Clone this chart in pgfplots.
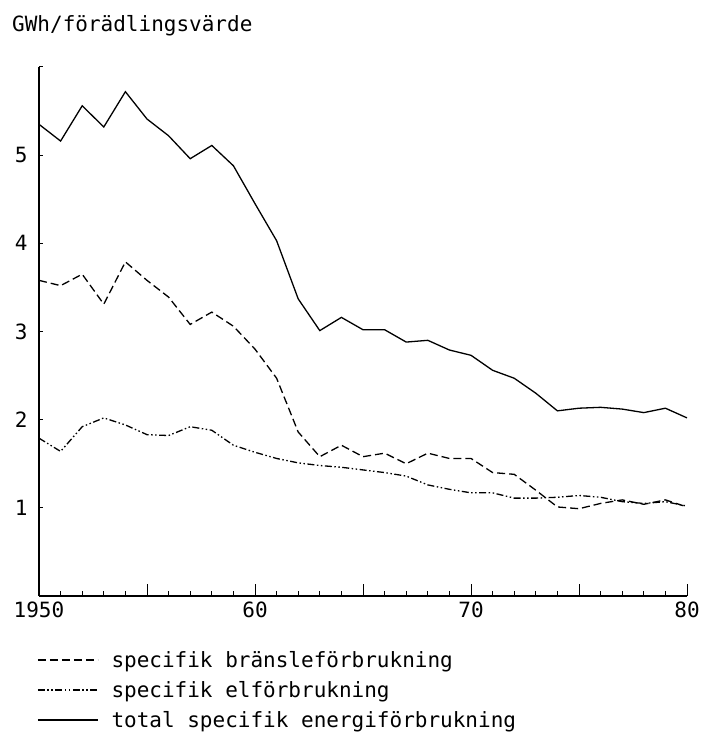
\documentclass[border=0pt]{standalone}
\usepackage{pgfplots}
\pgfplotsset{compat=1.18}
\usepackage{fontspec}
\setmainfont{DejaVu Sans Mono}
\newcommand{\bigf}{\fontsize{21pt}{24pt}\selectfont}
\begin{document}
\begin{tikzpicture}
\path (0,0) rectangle (703pt,738pt);
\node[anchor=base west,font=\bigf,inner sep=0] at (12pt,706pt) {GWh/förädlingsvärde};
\begin{axis}[
  at={(39pt,142pt)}, anchor=south west,
  scale only axis, width=648pt, height=529pt,
  xmin=1950, xmax=1980, ymin=0, ymax=6,
  axis x line=bottom, axis y line=left,
  axis line style={-, line width=1.3pt},
  tick align=inside,
  xtick={1950,1960,1970,1980},
  xticklabels={1950,60,70,80},
  minor xtick={1951,1952,1953,1954,1956,1957,1958,1959,1961,1962,1963,1964,1966,1967,1968,1969,1971,1972,1973,1974,1976,1977,1978,1979},
  major tick length=4pt, minor tick length=5pt,
  extra x ticks={1950,1955,1960,1965,1970,1975,1980},
  extra x tick labels={},
  extra tick style={major tick length=12pt},
  ytick={1,2,3,4,5,6},
  yticklabels={1,2,3,4,5,{}},
  xtick style={black, line width=1pt},
  ytick style={black, line width=1pt},
  minor tick style={black, line width=1pt},
  /pgf/number format/assume math mode=true,
  tick label style={font=\bigf},
  xticklabel style={yshift=-2pt},
  yticklabel style={xshift=-8pt},
  legend style={at={(0,0)}, anchor=north west, xshift=-2pt, yshift=-54pt,
    draw=none, fill=none, font=\bigf, row sep=10.5pt, inner sep=0pt,
    nodes={inner sep=1pt}},
  legend cell align=left,
  legend image code/.code={\draw[#1] (0pt,0pt) -- (60pt,0pt); \path (72pt,0pt);},
]
\addplot[black, line width=1.3pt, dash pattern=on 8pt off 4pt] coordinates {
(1950,3.58)(1951,3.52)(1952,3.65)(1953,3.31)(1954,3.79)(1955,3.58)(1956,3.39)
(1957,3.08)(1958,3.22)(1959,3.06)(1960,2.80)(1961,2.47)(1962,1.86)(1963,1.58)
(1964,1.71)(1965,1.58)(1966,1.62)(1967,1.50)(1968,1.62)(1969,1.56)(1970,1.56)
(1971,1.40)(1972,1.38)(1973,1.20)(1974,1.01)(1975,0.99)(1976,1.05)(1977,1.09)
(1978,1.04)(1979,1.09)(1980,1.01)};
\addlegendentry{specifik bränsleförbrukning}
\addplot[black, line width=1.3pt, dash pattern=on 7pt off 2.5pt on 1.5pt off 2.5pt on 1.5pt off 2.5pt] coordinates {
(1950,1.79)(1951,1.64)(1952,1.92)(1953,2.02)(1954,1.94)(1955,1.83)(1956,1.82)
(1957,1.92)(1958,1.88)(1959,1.71)(1960,1.63)(1961,1.56)(1962,1.51)(1963,1.48)
(1964,1.46)(1965,1.43)(1966,1.40)(1967,1.36)(1968,1.26)(1969,1.21)(1970,1.17)
(1971,1.17)(1972,1.11)(1973,1.11)(1974,1.12)(1975,1.14)(1976,1.12)(1977,1.07)
(1978,1.05)(1979,1.07)(1980,1.02)};
\addlegendentry{specifik elförbrukning}
\addplot[black, line width=1.3pt] coordinates {
(1950,5.35)(1951,5.16)(1952,5.56)(1953,5.32)(1954,5.72)(1955,5.41)(1956,5.22)
(1957,4.96)(1958,5.11)(1959,4.88)(1960,4.45)(1961,4.03)(1962,3.37)(1963,3.01)
(1964,3.16)(1965,3.02)(1966,3.02)(1967,2.88)(1968,2.90)(1969,2.79)(1970,2.73)
(1971,2.56)(1972,2.47)(1973,2.30)(1974,2.10)(1975,2.13)(1976,2.14)(1977,2.12)
(1978,2.08)(1979,2.13)(1980,2.02)};
\addlegendentry{total specifik energiförbrukning}
\end{axis}
\end{tikzpicture}
\end{document}
